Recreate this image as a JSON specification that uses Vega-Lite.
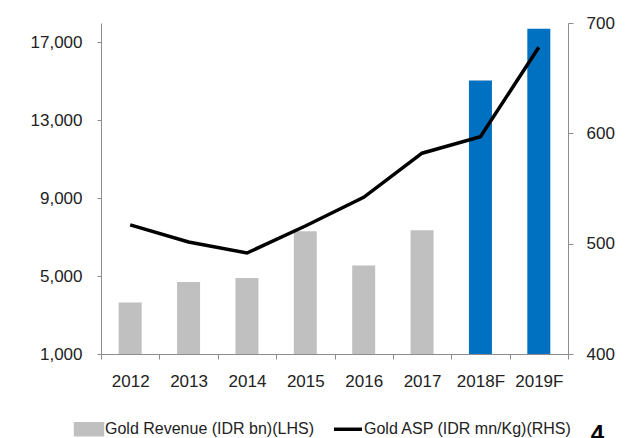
{
  "$schema": "https://vega.github.io/schema/vega-lite/v6.json",
  "width": 467,
  "height": 331,
  "autosize": {"type": "none"},
  "padding": {"left": 101, "top": 23, "right": 57, "bottom": 84},
  "background": "#ffffff",
  "title": {
    "text": "4",
    "orient": "bottom",
    "anchor": "end",
    "frame": "group",
    "font": "Liberation Sans",
    "fontSize": 24,
    "fontWeight": "bold",
    "color": "#000000",
    "dx": 36,
    "dy": -19,
    "offset": 0
  },
  "data": {
    "values": [
      {"year": "2012", "revenue": 3650, "asp": 517, "kind": "Gold Revenue (IDR bn)(LHS)"},
      {"year": "2013", "revenue": 4700, "asp": 501.5, "kind": "Gold Revenue (IDR bn)(LHS)"},
      {"year": "2014", "revenue": 4900, "asp": 491.5, "kind": "Gold Revenue (IDR bn)(LHS)"},
      {"year": "2015", "revenue": 7300, "asp": 516, "kind": "Gold Revenue (IDR bn)(LHS)"},
      {"year": "2016", "revenue": 5550, "asp": 542, "kind": "Gold Revenue (IDR bn)(LHS)"},
      {"year": "2017", "revenue": 7350, "asp": 582, "kind": "Gold Revenue (IDR bn)(LHS)"},
      {"year": "2018F", "revenue": 15050, "asp": 597, "kind": "Forecast"},
      {"year": "2019F", "revenue": 17700, "asp": 678, "kind": "Forecast"}
    ]
  },
  "encoding": {
    "x": {
      "field": "year",
      "type": "ordinal",
      "sort": null,
      "scale": {"paddingInner": 0, "paddingOuter": 0},
      "axis": {
        "title": null,
        "labelAngle": 0,
        "tickBand": "extent",
        "tickSize": 5,
        "labelPadding": 14,
        "domainColor": "#8c8c8c",
        "tickColor": "#8c8c8c",
        "labelFont": "Liberation Sans",
        "labelFontSize": 17,
        "labelColor": "#222222"
      }
    }
  },
  "layer": [
    {
      "mark": {"type": "bar", "size": 23},
      "encoding": {
        "y": {
          "field": "revenue",
          "type": "quantitative",
          "scale": {"domain": [1000, 18000], "nice": false, "zero": false},
          "axis": {
            "orient": "left",
            "title": null,
            "values": [1000, 5000, 9000, 13000, 17000],
            "format": ",.0f",
            "grid": false,
            "tickSize": 4,
            "labelPadding": 15,
            "domainColor": "#8c8c8c",
            "tickColor": "#8c8c8c",
            "labelFont": "Liberation Sans",
            "labelFontSize": 17,
            "labelColor": "#222222"
          }
        },
        "y2": {"datum": 1000},
        "color": {
          "field": "kind",
          "type": "nominal",
          "scale": {
            "domain": ["Gold Revenue (IDR bn)(LHS)", "Gold ASP (IDR mn/Kg)(RHS)", "Forecast"],
            "range": ["#c0c0c0", "#000000", "#0070c0"]
          },
          "legend": {
            "title": null,
            "orient": "none",
            "direction": "horizontal",
            "legendX": -28,
            "legendY": 390,
            "values": ["Gold Revenue (IDR bn)(LHS)", "Gold ASP (IDR mn/Kg)(RHS)"],
            "labelFont": "Liberation Sans",
            "labelFontSize": 16,
            "labelColor": "#222222",
            "labelLimit": 400,
            "labelOffset": 0,
            "columnPadding": 13,
            "padding": 0,
            "symbolSize": 784,
            "symbolStrokeWidth": 0,
            "encode": {
              "symbols": {
                "update": {
                  "shape": {"signal": "datum.value === 'Gold ASP (IDR mn/Kg)(RHS)' ? 'M-0.96,-0.39M0.96,0.39M-1,0H1' : 'M-0.96,-0.39H0.96V0.39H-0.96Z'"},
                  "fill": {"signal": "datum.value === 'Gold ASP (IDR mn/Kg)(RHS)' ? 'transparent' : '#c0c0c0'"},
                  "stroke": {"signal": "datum.value === 'Gold ASP (IDR mn/Kg)(RHS)' ? '#000000' : 'transparent'"},
                  "strokeWidth": {"value": 3.5},
                  "opacity": {"value": 1},
                  "size": {"value": 784}
                }
              }
            }
          }
        }
      }
    },
    {
      "mark": {"type": "line", "strokeWidth": 3.5, "color": "#000000"},
      "encoding": {
        "y": {
          "field": "asp",
          "type": "quantitative",
          "scale": {"domain": [400, 700], "nice": false, "zero": false},
          "axis": {
            "orient": "right",
            "title": null,
            "values": [400, 500, 600, 700],
            "grid": false,
            "tickSize": 5,
            "labelPadding": 13,
            "domainColor": "#8c8c8c",
            "tickColor": "#8c8c8c",
            "labelFont": "Liberation Sans",
            "labelFontSize": 17,
            "labelColor": "#222222"
          }
        },
        "color": {"datum": "Gold ASP (IDR mn/Kg)(RHS)"}
      }
    }
  ],
  "resolve": {"scale": {"y": "independent"}},
  "config": {
    "view": {"stroke": null},
    "axis": {"domainWidth": 1, "tickWidth": 1}
  }
}
